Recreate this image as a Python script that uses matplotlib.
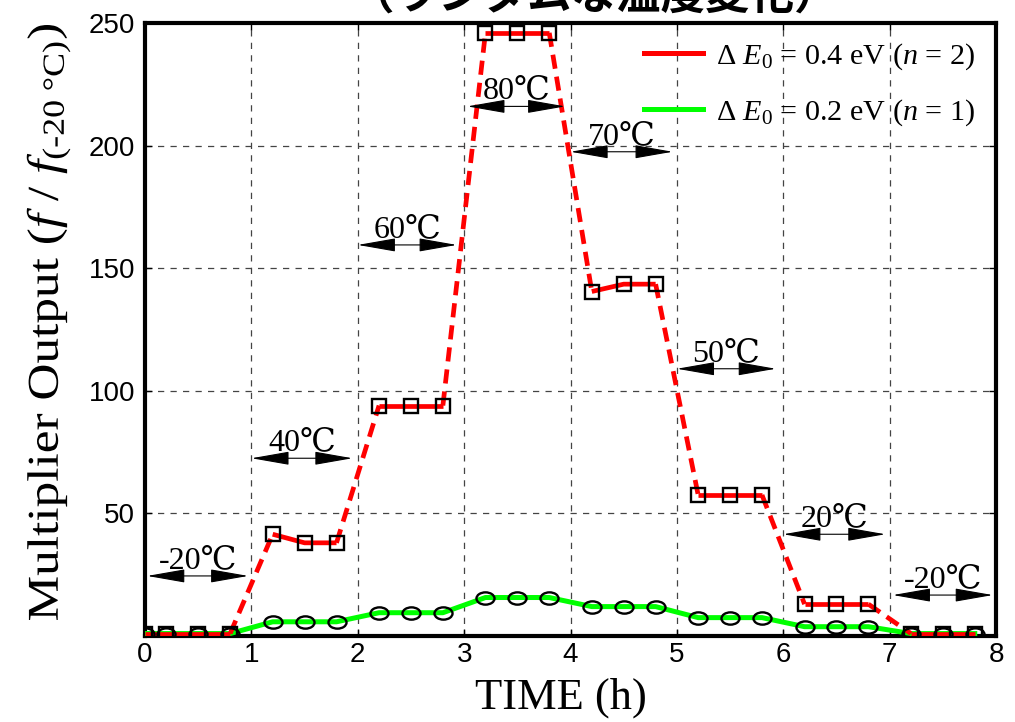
import matplotlib

matplotlib.use("Agg")
import matplotlib.pyplot as plt
import numpy as np
from matplotlib.font_manager import FontProperties
from matplotlib.lines import Line2D
from matplotlib.patches import PathPatch
from matplotlib.path import Path
from matplotlib.textpath import TextPath
from matplotlib.transforms import Affine2D

# temps de mesure (h) et sorties normalisées des deux multiplicateurs
time_h = [0, 0.2, 0.5, 0.8, 1.2, 1.5, 1.8, 2.2, 2.5, 2.8, 3.2, 3.5, 3.8,
          4.2, 4.5, 4.8, 5.2, 5.5, 5.8, 6.2, 6.5, 6.8, 7.2, 7.5, 7.8]
out_n2 = [1, 1, 1, 1, 41.5, 38, 38, 94, 94, 94, 246, 246, 246,
          140.5, 143.5, 143.5, 57.5, 57.5, 57.5, 13, 13, 13, 1, 1, 1]
out_n1 = [1, 1, 1, 1, 5.8, 5.8, 5.8, 9.5, 9.5, 9.5, 15.7, 15.7, 15.7,
          12, 12, 12, 7.5, 7.5, 7.5, 3.8, 3.8, 3.8, 1, 1, 1]

# paliers de température : libellé, début, fin, hauteur de la flèche
stage_labels = ["-20℃", "40℃", "60℃", "80℃", "70℃", "50℃", "20℃", "-20℃"]
stage_start = [0.02, 1.0, 2.0, 3.03, 4.0, 5.0, 6.0, 7.03]
stage_end = [0.97, 1.95, 2.93, 3.95, 4.96, 5.93, 6.96, 7.97]
stage_arrow_y = [24.5, 72.5, 159.5, 216, 197.5, 109, 41.5, 16.7]

legend_labels = [r"$\Delta\ \mathit{E}_{\mathit{0}}$ = 0.4 eV ($\mathit{n}$ = 2)",
                 r"$\Delta\ \mathit{E}_{\mathit{0}}$ = 0.2 eV ($\mathit{n}$ = 1)"]
# trait d'union U+2010 pour éviter le signe moins de mathtext
ylabel = (r"Multiplier Output ($\mathit{f}$ / $\mathit{f}_{\mathrm{("
          + "\u2010" + r"20\ °C)}}$)")

SERIF = ["Liberation Serif", "DejaVu Serif", "Noto Sans CJK JP"]
plt.rcParams["font.family"] = ["Liberation Sans", "DejaVu Sans"]
plt.rcParams["mathtext.fontset"] = "custom"
plt.rcParams["mathtext.rm"] = "Liberation Serif"
plt.rcParams["mathtext.it"] = "Liberation Serif:italic"
plt.rcParams["mathtext.bf"] = "Liberation Serif:bold"

RED = "#ff0000"
GREEN = "#00ff00"
W, H = 1015, 722

fig = plt.figure(figsize=(W / 100, H / 100), dpi=100)
ax = fig.add_axes([0.1429, 0.1191, 0.8384, 0.849])

t = np.array(time_h)
r = np.array(out_n2)
g = np.array(out_n1)

# marqueur ovale (cercles aplatis comme sur l'original)
circ = Path.unit_circle()
oval = Path(circ.vertices * [1.0, 0.68], circ.codes)

ax.plot(t, g, color=GREEN, lw=3.6, zorder=3)
ax.plot(t, g, ls="none", marker=oval, ms=13, mfc="none", mec="black", mew=1.7, zorder=5)

# trait plein sur les paliers, tirets pendant les transitions
breaks = np.where(np.diff(t) > 0.35)[0]
starts = np.r_[0, breaks + 1]
ends = np.r_[breaks, len(t) - 1]
for s, e in zip(starts, ends):
    ax.plot(t[s:e + 1], r[s:e + 1], color=RED, lw=3.4, solid_capstyle="butt", zorder=4)
for b in breaks:
    ax.plot(t[b:b + 2], r[b:b + 2], color=RED, lw=3.4, ls=(0, (3.0, 1.7)), zorder=4)
ax.plot(t, r, ls="none", marker="s", ms=10.5, mfc="none", mec="black", mew=1.7, zorder=6)

for lab, x0, x1, y in zip(stage_labels, stage_start, stage_end, stage_arrow_y):
    ax.annotate("", xy=(x1, y), xytext=(x0, y),
                arrowprops=dict(arrowstyle="<|-|>,head_length=2.4,head_width=0.42",
                                mutation_scale=10, color="black", lw=0.8,
                                shrinkA=0, shrinkB=0), zorder=7)
    ax.text((x0 + x1) / 2, y + 3.2, lab, ha="center", va="baseline",
            fontsize=23, family=SERIF, zorder=7)

ax.set_xlim(0, 8)
ax.set_ylim(0, 250)
ax.set_xticks(range(9))
ax.set_yticks([50, 100, 150, 200, 250])
ax.grid(True, color="#444444", ls=(0, (5, 5)), lw=0.9)
ax.tick_params(direction="in", length=5, width=1, top=True, right=True,
               labelsize=20)
ax.tick_params(axis="x", pad=4)
ax.tick_params(axis="y", pad=7)
for sp in ax.spines.values():
    sp.set_linewidth(3)

ax.set_xlabel("TIME (h)", fontsize=32, family="Liberation Serif", va="baseline")
ax.xaxis.set_label_coords(0.489, -0.1175)

# libellé vertical étiré dans le sens du texte, comme sur l'original
tp = TextPath((0, 0), ylabel, size=1, prop=FontProperties(family="Liberation Serif"))
ext = tp.get_extents()
y_bottom, y_top, x_base = 620, 25, 58          # pixels depuis le haut / la gauche
sx = (y_bottom - y_top) / ext.width
sy = 44.0
tr = (Affine2D().translate(-ext.x0, 0).scale(sx, sy).rotate_deg(90)
      .translate(x_base, H - y_bottom))
fig.add_artist(PathPatch(tp, transform=tr, fc="black", ec="none", lw=0))

handles = [Line2D([], [], color=RED, lw=3.6), Line2D([], [], color=GREEN, lw=3.6)]
ax.legend(handles, legend_labels, loc="upper right", frameon=False,
          prop={"family": "Liberation Serif", "size": 21.7},
          handlelength=1.95, handletextpad=0.45, labelspacing=0.85,
          borderaxespad=0.2, bbox_to_anchor=(0.997, 1.0))

fig.text(0.585, 1 - 10 / H, "（ランダムな温度変化）", ha="center", va="baseline",
         fontsize=32, fontweight="bold", family=["Noto Sans CJK JP", "DejaVu Sans"])

fig.savefig("out.png", dpi=100)
